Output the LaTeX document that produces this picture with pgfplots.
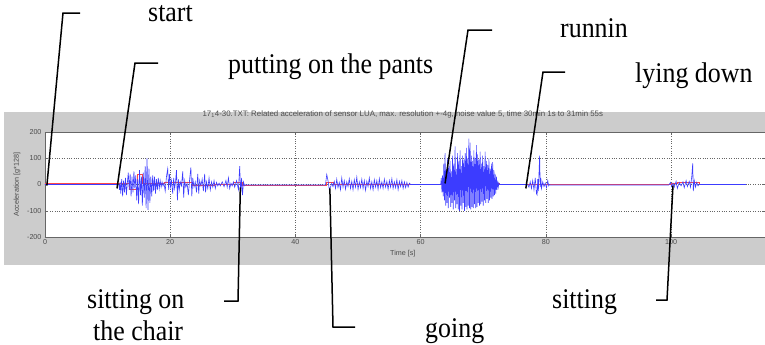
\documentclass[border=0pt]{standalone}
\usepackage{pgfplots}
\pgfplotsset{compat=1.18}
\usepackage{graphicx}
\usepackage{fontspec}
\setmainfont{Liberation Serif}
\newfontfamily\msans{Liberation Sans}
\definecolor{mgray}{RGB}{204,204,204}
\definecolor{sigblue}{RGB}{60,60,255}
\definecolor{sigred}{RGB}{255,70,70}
\newcommand{\ann}{\fontsize{26}{30}\selectfont}
\newcommand{\mfont}{\msans\fontsize{7.2}{8}\selectfont}
\newcommand{\lab}[1]{\scalebox{1}[1.1]{#1}}
\begin{document}
\begin{tikzpicture}
\useasboundingbox (0,0) rectangle (765bp,-345bp);
\fill[white] (0,0) rectangle (765bp,-345bp);
\fill[mgray] (4bp,-112bp) rectangle (765bp,-265bp);
\begin{axis}[
  at={(45bp,-237bp)}, anchor=south west,
  scale only axis, width=720bp, height=105bp,
  xmin=0, xmax=115, ymin=-200, ymax=200,
  xtick={0,20,40,60,80,100}, ytick={-200,-100,0,100,200},
  tick align=inside, major tick length=3bp,
  grid=major, major grid style={dotted, black!60, line width=0.5bp},
  axis line style={black!60, line width=0.5bp},
  tick style={black!60, line width=0.5bp},
  ticklabel style={font=\mfont, text=black!70},
  xticklabel style={yshift=1bp},
  /pgf/number format/assume math mode=true,
  xlabel={Time [s]}, ylabel={Acceleration [g*128]},
  label style={font=\mfont, text=black!70},
  xlabel style={at={(axis description cs:0.497,-0.162)},anchor=center},
  ylabel style={at={(axis description cs:-0.0389,0.5)},anchor=center},
  title={17\textsubscript{1}4-30.TXT: Related acceleration of sensor LUA, max. resolution +-4g, noise value 5, time 30min 1s to 31min 55s},
  title style={at={(axis description cs:0.497,1.114)},anchor=center,font=\msans\fontsize{7.9}{9}\selectfont, text=black!70},
  axis background/.style={fill=white},
]
% smoothed (red)
\addplot[sigred, line width=0.5bp] coordinates {
(0,5) (12,5) (12,3) (13.5,3) (13.5,-18) (14.8,-18) (14.8,40) (15.6,40) (15.6,5) (19,5) (19,8) (23.5,8) (23.5,-4) (27,-4) (27,2) (30,2) (30,8) (31.5,8) (31.5,-3) (45,-3) (45,10) (46,10) (46,2) (58,2) (63.3,2) (63.3,6) (67,6) (67,9) (70,9) (70,6) (72.5,6) (72.5,2) (100,2) (100,6) (101,6) (101,9) (104.5,9) (104.5,2) (112,2)
};
% raw signal (blue)
\addplot[sigblue, line width=0.6bp] coordinates {
(0,0) (11.8,0)
(11.9,-20) (12.0,10) (12.1,-35) (12.25,20) (12.4,-45) (12.55,15) (12.7,-30) (12.85,25) (13.0,-40) (13.15,5)
(13.3,45) (13.45,-20) (13.6,40) (13.75,-45) (13.9,30) (14.05,-30) (14.2,50) (14.35,-15) (14.5,35) (14.65,-60)
(14.8,20) (14.95,-75) (15.1,55) (15.25,-40) (15.4,30) (15.55,-80) (15.7,45) (15.85,-50) (16.0,70) (16.15,-90)
(16.3,100) (16.45,-97) (16.6,60) (16.75,-70) (16.9,30) (17.05,-45) (17.2,35) (17.35,-25) (17.5,30) (17.65,-35)
(17.8,20) (17.95,-20) (18.1,25) (18.25,-15) (18.4,15) (18.55,-10) (18.7,10) (18.85,-5) (19.0,5) (19.2,-25)
(19.4,30) (19.6,60) (19.75,-20) (19.9,40) (20.05,-10) (20.2,15) (20.4,-35) (20.55,25) (20.7,-15) (20.85,10)
(21.0,55) (21.15,-60) (21.3,20) (21.45,-20) (21.6,10) (21.8,-5) (22.0,50) (22.15,-50) (22.3,15) (22.5,-10)
(22.7,5) (22.9,-40) (23.1,20) (23.3,65) (23.45,-45) (23.6,25) (23.8,-10) (24.0,10) (24.2,-30) (24.4,40)
(24.55,-35) (24.7,15) (24.9,-5) (25.1,20) (25.3,-25) (25.5,40) (25.65,-30) (25.8,10) (26.0,-15) (26.2,25)
(26.4,-20) (26.6,10) (26.8,-10) (27.0,15) (27.2,-15) (27.4,8) (27.6,-5) (27.8,5) (28.0,-5) (28.3,10)
(28.6,-8) (28.9,15) (29.1,-10) (29.3,25) (29.5,-15) (29.7,5) (29.9,-5) (30.1,10) (30.3,-10) (30.6,15)
(30.9,-20) (31.1,70) (31.25,-35) (31.4,25) (31.55,-40) (31.7,10) (31.9,-5) (32.1,0)
(32.2,-2) (44.7,-2)
(44.8,0) (45.0,38) (45.2,15) (45.4,-18) (45.6,-10) (45.8,5) (46.0,-8) (46.2,12) (46.4,-15) (46.6,20)
(46.8,-12) (47.0,8) (47.2,-20) (47.4,25) (47.6,-10) (47.8,15) (48.0,-18) (48.2,10) (48.4,-8) (48.6,22)
(48.8,-15) (49.0,12) (49.2,-20) (49.4,18) (49.6,-10) (49.8,28) (50.0,-18) (50.2,10) (50.4,-12) (50.6,20)
(50.8,-15) (51.0,15) (51.2,-22) (51.4,12) (51.6,-8) (51.8,25) (52.0,-15) (52.2,10) (52.4,-20) (52.6,18)
(52.8,-10) (53.0,15) (53.2,-18) (53.4,22) (53.6,-12) (53.8,10) (54.0,-15) (54.2,20) (54.4,-10) (54.6,12)
(54.8,-18) (55.0,15) (55.2,-10) (55.4,22) (55.6,-15) (55.8,10) (56.0,-12) (56.2,18) (56.4,-20) (56.6,12)
(56.8,-8) (57.0,15) (57.2,-15) (57.4,10) (57.6,-12) (57.8,8) (58.0,-10) (58.2,5) (58.4,0)
(63.2,0) (63.3,25) (63.4,-30) (63.5,35) (63.6,-45) (63.7,80) (63.8,-60) (63.9,120) (64.0,-80) (64.1,60)
(64.2,-70) (64.3,100) (64.4,-90) (64.5,70) (64.6,-50) (64.7,90) (64.8,-85) (64.9,50) (65.0,-70) (65.1,110)
(65.2,-95) (65.3,80) (65.4,-60) (65.5,145) (65.6,-90) (65.7,60) (65.8,-75) (65.9,120) (66.0,-95) (66.1,90)
(66.2,-100) (66.3,130) (66.4,-80) (66.5,70) (66.6,-95) (66.7,110) (66.8,-70) (66.9,95) (67.0,-100) (67.1,120)
(67.2,-85) (67.3,140) (67.4,-95) (67.5,100) (67.6,-80) (67.7,175) (67.8,-90) (67.9,160) (68.0,-95) (68.1,110)
(68.2,-85) (68.3,90) (68.4,-90) (68.5,130) (68.6,-75) (68.7,100) (68.8,-90) (68.9,150) (69.0,-85) (69.1,115)
(69.2,-70) (69.3,95) (69.4,-80) (69.5,125) (69.6,-75) (69.7,80) (69.8,-65) (69.9,110) (70.0,-80) (70.1,70)
(70.2,-60) (70.3,125) (70.4,-70) (70.5,90) (70.6,-55) (70.7,75) (70.8,-70) (70.9,100) (71.0,-60) (71.1,60)
(71.2,-50) (71.3,80) (71.4,-55) (71.5,85) (71.6,-45) (71.7,55) (71.8,-40) (71.9,40) (72.0,-35) (72.1,30)
(72.2,-20) (72.3,15) (72.4,-10) (72.5,5) (72.6,0)
(77.1,0) (77.3,-10) (77.5,10) (77.7,-15) (77.9,15) (78.1,-20) (78.3,25) (78.5,-35) (78.6,-40) (78.7,20)
(78.8,-25) (78.9,40) (79.0,110) (79.1,-10) (79.2,25) (79.3,-15) (79.5,10) (79.7,-8) (79.9,5) (80.1,-12)
(80.3,15) (80.45,-5) (80.6,0)
(80.7,-2) (99.6,-2)
(99.7,0) (99.9,8) (100.1,-8) (100.3,5) (100.5,-10) (100.8,12) (101.0,-15) (101.3,8) (101.6,-5) (101.9,10)
(102.1,-12) (102.4,15) (102.6,-8) (102.9,12) (103.1,-10) (103.3,30) (103.45,80) (103.55,-25) (103.7,15) (103.9,-10)
(104.1,8) (104.3,-5) (104.5,0) (112,0)
};
\coordinate (pStart) at (axis cs:0.3,-4);
\coordinate (pPants) at (axis cs:11.5,-15);
\coordinate (pRun) at (axis cs:63.9,4);
\coordinate (pLie) at (axis cs:76.8,-15);
\coordinate (pChair) at (axis cs:31.2,-11);
\coordinate (pGo) at (axis cs:45.5,-15);
\coordinate (pSit) at (axis cs:100.3,-4);
\end{axis}
\begin{scope}[line width=1.5bp, black]
\draw (pStart) -- (63bp,-13bp) -- (80bp,-13bp);
\draw (pPants) -- (135bp,-63bp) -- (158bp,-63bp);
\draw (pRun) -- (468bp,-30bp) -- (492bp,-30bp);
\draw (pLie) -- (543bp,-72bp) -- (565bp,-72bp);
\draw (pChair) -- (238bp,-301bp) -- (224bp,-301bp);
\draw (pGo) -- (333bp,-327bp) -- (355bp,-327bp);
\draw (pSit) -- (667bp,-300bp) -- (656bp,-300bp);
\end{scope}
\begin{scope}[every node/.style={inner sep=0pt, anchor=base west, font=\ann}]
\node at (148bp,-21bp) {\lab{start}};
\node at (228bp,-73bp) {\lab{putting on the pants}};
\node at (560bp,-37bp) {\lab{runnin}};
\node at (635bp,-82bp) {\lab{lying down}};
\node at (87bp,-308bp) {\lab{sitting on}};
\node at (93bp,-340bp) {\lab{the chair}};
\node at (425bp,-337bp) {\lab{going}};
\node at (552bp,-308bp) {\lab{sitting}};
\end{scope}
\end{tikzpicture}
\end{document}
